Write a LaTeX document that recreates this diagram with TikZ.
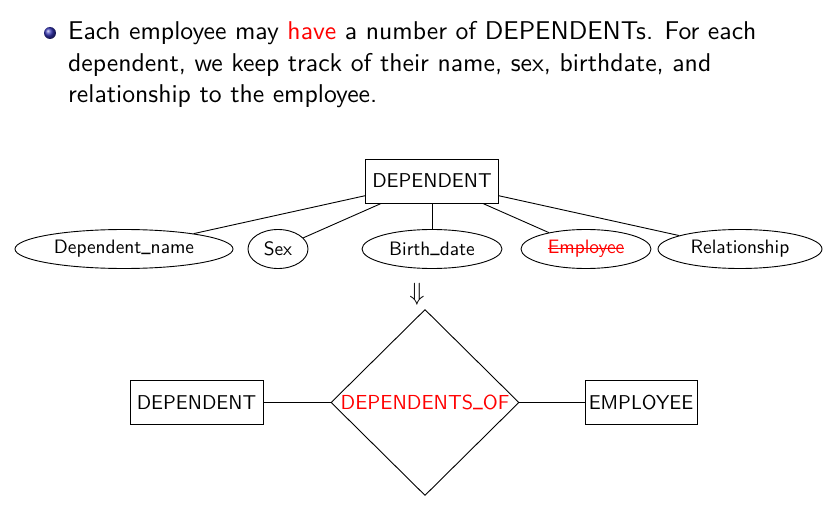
\documentclass[tikz,border=0pt]{standalone}
\usepackage{fontspec}
\usepackage{graphicx}
\setsansfont{lmsans10-regular.otf}
\usetikzlibrary{shapes.geometric}
\renewcommand{\familydefault}{\sfdefault}
\definecolor{bblue}{rgb}{0.2,0.2,0.7}
\newcommand\strikeout[1]{\setbox0\hbox{#1}\rlap{\rule[0.24em]{\wd0}{0.065em}}\box0}
\newcommand\usc{\raisebox{0.13em}{\scalebox{0.72}[1]{\_}}}
\begin{document}
\begin{tikzpicture}[x=1pt,y=-1pt,
  entity/.style={draw, rectangle, line width=0.9pt, font=\fontsize{20}{22}\selectfont, minimum height=44, inner sep=0},
  attr/.style={draw, ellipse, line width=0.9pt, font=\fontsize{19.4}{21}\selectfont, minimum height=39, inner sep=0},
  relship/.style={draw, diamond, line width=0.9pt, font=\fontsize{20.3}{22}\selectfont, inner sep=0, minimum width=188, minimum height=186},
  conn/.style={draw, line width=0.9pt},
  bodytext/.style={anchor=base west, inner sep=0, font=\fontsize{25.7}{31.5}\selectfont}
]
\useasboundingbox (0,0) rectangle (831,516);
% bullet
\shade[ball color=bblue] (50,33) circle (6);
\node[bodytext] (t1) at (68,40) {Each employee may \textcolor{red}{have} a number of DEPENDENTs. For each};
\node[bodytext] (t2) at (68,71.5) {dependent, we keep track of their name, sex, birthdate, and};
\node[bodytext] (t3) at (68,103) {relationship to the employee.};
% top entity and attributes
\node[entity, minimum width=133] (dep) at (432,181) {DEPENDENT};
\node[attr, minimum width=218] (dn) at (124,249) {Dependent\usc name};
\node[attr, minimum width=60] (sex) at (278,249) {Sex};
\node[attr, minimum width=140] (bd) at (432,249) {Birth\usc date};
\node[attr, minimum width=130, text=red] (emp) at (586,249) {\strikeout{Employee}};
\node[attr, minimum width=164] (rel) at (740,249) {Relationship};
\foreach \a in {dn,sex,bd,emp,rel} \draw[conn] (dep) -- (\a);
% arrow
\node[inner sep=0, font=\fontsize{24}{26}\selectfont] (arr) at (417,294) {$\Downarrow$};
% bottom
\node[entity, minimum width=133] (dep2) at (196.5,402.5) {DEPENDENT};
\node[relship, text=red] (dof) at (425,402.5) {DEPENDENTS\usc OF};
\node[entity, minimum width=112] (empl) at (641,402.5) {EMPLOYEE};
\draw[conn] (dep2) -- (dof);
\draw[conn] (dof) -- (empl);
\end{tikzpicture}
\end{document}
